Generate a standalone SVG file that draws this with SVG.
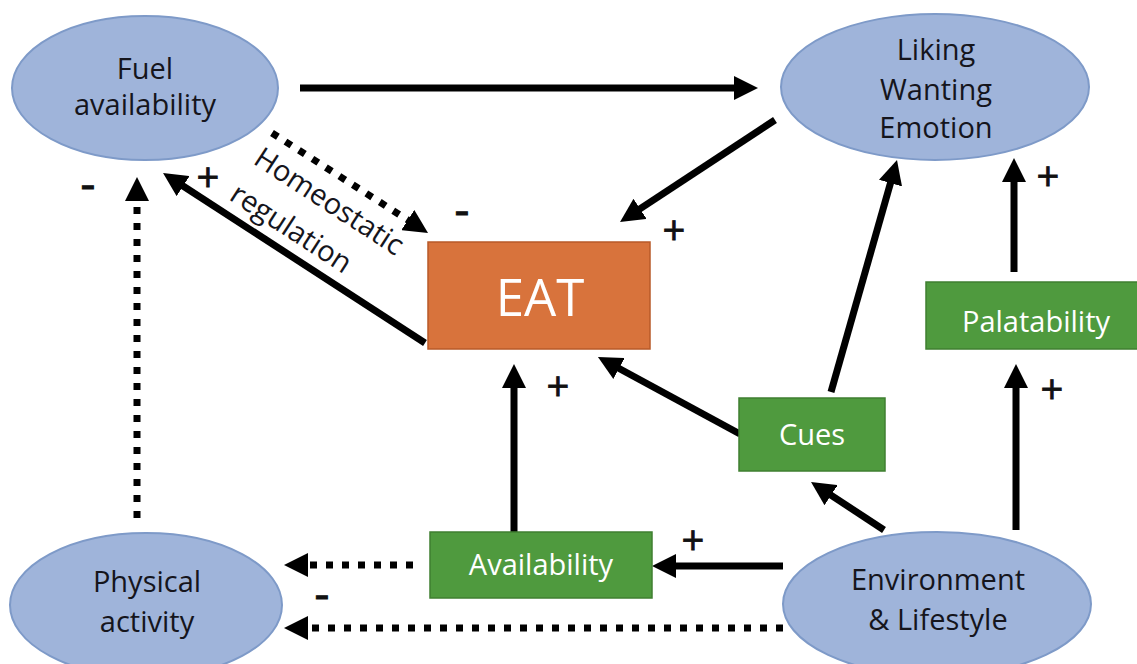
<svg xmlns="http://www.w3.org/2000/svg" width="1137" height="664" viewBox="0 0 1137 664">
<style>
.ell{fill:#9fb4da;stroke:#7e9ac8;stroke-width:2}
.box-g{fill:#4f9a3e;stroke:#3f7f30;stroke-width:1.5}
.box-o{fill:#d8733c;stroke:#b85a28;stroke-width:1.5}
.t{font-family:"Open Sans","DejaVu Sans",sans-serif;font-size:29px;text-anchor:middle;fill:#15151c}
.tr{font-family:"Open Sans","DejaVu Sans",sans-serif;font-size:29px;text-anchor:start;fill:#15151c}
.tw{font-family:"Open Sans","DejaVu Sans",sans-serif;font-size:29px;text-anchor:middle;fill:#ffffff}
.sign{font-family:"Open Sans","DejaVu Sans",sans-serif;font-size:40px;text-anchor:middle;fill:#111;stroke:#111;stroke-width:0.8}
.minus{font-family:"Open Sans","DejaVu Sans",sans-serif;font-size:46px;text-anchor:middle;fill:#111;stroke:#111;stroke-width:1}
.solid{stroke:#000;stroke-width:7;fill:none;marker-end:url(#ah)}
.dot{stroke:#000;stroke-width:7;fill:none;stroke-dasharray:7 9;marker-end:url(#ah)}
</style>
<defs>
<marker id="ah" viewBox="0 0 24 24" markerWidth="24" markerHeight="24" markerUnits="userSpaceOnUse" refX="2" refY="12" orient="auto">
<path d="M0,0 L24,12 L0,24 z" fill="#000"/>
</marker>
</defs>
<rect width="1137" height="664" fill="#ffffff"/>

<g id="connectors">
<line class="solid" x1="300" y1="88" x2="736" y2="88"/>
<line class="solid" x1="775" y1="120" x2="638.4" y2="209.9"/>
<line class="dot" x1="272" y1="133" x2="409.5" y2="221.1"/>
<line class="solid" x1="425" y1="343" x2="181.5" y2="185"/>
<line class="dot" x1="137" y1="518" x2="137" y2="199"/>
<line class="solid" x1="514" y1="532" x2="514" y2="386"/>
<line class="solid" x1="740" y1="434" x2="617.3" y2="367.5"/>
<line class="solid" x1="831" y1="392" x2="891" y2="181.2"/>
<line class="solid" x1="1014" y1="272" x2="1014" y2="180"/>
<line class="solid" x1="1016" y1="530" x2="1016" y2="386"/>
<line class="solid" x1="884" y1="530" x2="829.4" y2="494.1"/>
<line class="solid" x1="783" y1="566" x2="674" y2="566"/>
<line class="dot" x1="413" y1="565" x2="306" y2="565"/>
<line class="dot" x1="783" y1="628" x2="306" y2="628"/>
</g>

<g id="labels">
<text class="minus" x="88" y="200">-</text>
<text class="sign" x="208" y="192">+</text>
<text class="minus" x="462" y="226">-</text>
<text class="sign" x="674" y="245">+</text>
<text class="sign" x="1048" y="191">+</text>
<text class="sign" x="558" y="401">+</text>
<text class="sign" x="1052" y="404">+</text>
<text class="sign" x="693" y="555">+</text>
<text class="minus" x="322" y="610">-</text>
<text class="tr" transform="translate(252,163) rotate(33)">Homeostatic</text>
<text class="tr" transform="translate(228,199) rotate(33)">regulation</text>
</g>

<g id="fuel">
<ellipse class="ell" cx="145" cy="88" rx="133" ry="72"/>
<text class="t" x="145" y="79">Fuel</text>
<text class="t" x="145" y="115">availability</text>
</g>

<g id="liking">
<ellipse class="ell" cx="935" cy="87" rx="154" ry="73"/>
<text class="t" x="936" y="60">Liking</text>
<text class="t" x="936" y="100">Wanting</text>
<text class="t" x="936" y="138">Emotion</text>
</g>

<g id="eat">
<rect class="box-o" x="428" y="242" width="222" height="107"/>
<text class="tw" x="540" y="316" style="font-size:51px">EAT</text>
</g>

<g id="palatability">
<rect class="box-g" x="926" y="282" width="215" height="67"/>
<text class="tw" x="1036" y="332">Palatability</text>
</g>

<g id="cues">
<rect class="box-g" x="739" y="398" width="146" height="73"/>
<text class="tw" x="812" y="445">Cues</text>
</g>

<g id="availability">
<rect class="box-g" x="430" y="532" width="222" height="66"/>
<text class="tw" x="541" y="575">Availability</text>
</g>

<g id="physical">
<ellipse class="ell" cx="146" cy="605" rx="136" ry="72"/>
<text class="t" x="147" y="592">Physical</text>
<text class="t" x="147" y="632">activity</text>
</g>

<g id="environment">
<ellipse class="ell" cx="937" cy="604" rx="154" ry="72"/>
<text class="t" x="938" y="590">Environment</text>
<text class="t" x="938" y="630">&amp; Lifestyle</text>
</g>
</svg>
